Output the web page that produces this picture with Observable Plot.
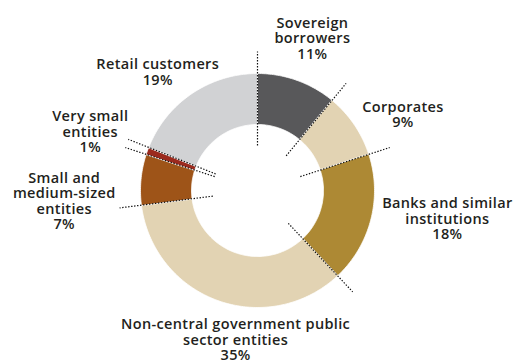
<!DOCTYPE html>
<html><head><meta charset="utf-8">
<script src="https://cdn.jsdelivr.net/npm/d3@7"></script>
<script src="https://cdn.jsdelivr.net/npm/@observablehq/plot@0.6"></script>
<style>body{margin:0;background:#fff;} svg{display:block;}</style>
</head><body><div id="chart"></div>
<script>
// ---- data ----
const categories = ["Sovereign borrowers","Corporates","Banks and similar institutions","Non-central government public sector entities","Small and medium-sized entities","Very small entities","Retail customers"];
const labelLines = ["Sovereign\nborrowers","Corporates","Banks and similar\ninstitutions","Non-central government public\nsector entities","Small and\nmedium-sized\nentities","Very small\nentities","Retail customers"];
const shares = [11, 9, 18, 35, 7, 1, 19];
const colors = ["#58585a","#e2d3b3","#ad8934","#e2d3b3","#9e5418","#9b2a1e","#d1d2d4"];

// ---- layout ----
const W = 514, H = 363;
const R = 117, r0 = 66, lineIn = 45, lineOut = 139, labelR = 165;
const labelOffset = [[-1,3],[9,17],[30,-13],[34,-6],[-29,26],[-12,-3],[-7,18]];

const total = d3.sum(shares);
let acc = 0;
const slices = shares.map((v, i) => {
  const a0 = acc / total * 2 * Math.PI; acc += v;
  const a1 = acc / total * 2 * Math.PI;
  return {name: categories[i], a0, a1, mid: (a0 + a1) / 2, i};
});
const pt = (a, rad) => [Math.sin(a) * rad, -Math.cos(a) * rad];
const ringPts = [];
slices.forEach(s => {
  const n = Math.max(2, Math.ceil((s.a1 - s.a0) / (Math.PI / 180)));
  for (let k = 0; k <= n; k++) { const [x, y] = pt(s.a0 + (s.a1 - s.a0) * k / n, R); ringPts.push({name: s.name, x, y}); }
  for (let k = n; k >= 0; k--) { const [x, y] = pt(s.a0 + (s.a1 - s.a0) * k / n, r0); ringPts.push({name: s.name, x, y}); }
});
const bounds = slices.map(s => {
  const [x1, y1] = pt(s.a0, lineIn), [x2, y2] = pt(s.a0, lineOut);
  return {x1, y1, x2, y2};
});
const labels = slices.map(s => {
  const [x, y] = pt(s.mid, labelR);
  return {x: x + labelOffset[s.i][0], y: y + labelOffset[s.i][1], text: labelLines[s.i] + "\n" + shares[s.i] + "%"};
});

const chart = Plot.plot({
  width: W, height: H, margin: 0,
  style: {fontFamily: "'Open Sans', sans-serif", background: "#fff"},
  x: {domain: [-257, 257], axis: null},
  y: {domain: [-190, 173], range: [0, H], axis: null},
  color: {domain: categories, range: colors},
  marks: [
    Plot.line(ringPts, {x: "x", y: "y", z: "name", fill: "name", stroke: "white", strokeWidth: 0.8, curve: "linear-closed"}),
    Plot.link(bounds, {x1: "x1", y1: "y1", x2: "x2", y2: "y2", stroke: "#111", strokeWidth: 1.2, strokeDasharray: "1.4,1.6"}),
    Plot.text(labels, {x: "x", y: "y", text: "text", fontSize: 14.5, fontWeight: 600, lineHeight: 1.07, fill: "#231f20"})
  ]
});
chart.querySelectorAll("text").forEach(t => t.style.letterSpacing = "0.35px");
document.getElementById("chart").append(chart);
</script>
</body></html>
